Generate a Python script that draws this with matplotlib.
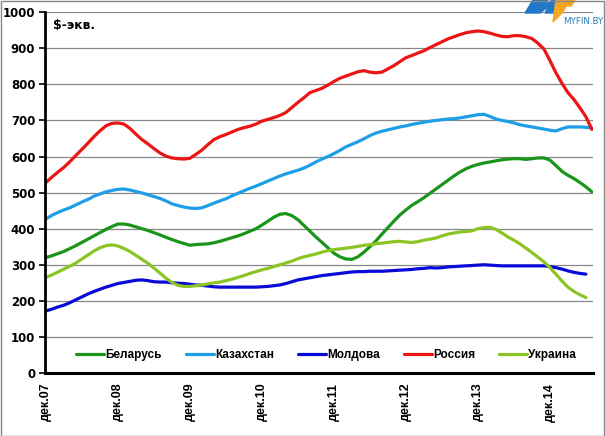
import numpy as np
import matplotlib
matplotlib.use('Agg')
import matplotlib.pyplot as plt
from matplotlib.patches import Rectangle, Polygon

# monthly values, dec.2007 .. jul.2015
belarus = [320, 325, 331, 337, 345, 353, 362, 371, 380, 389, 398, 406, 413, 413, 410, 405,
           400, 395, 389, 383, 376, 370, 364, 359, 354, 356, 357, 358, 361, 365, 370, 375,
           380, 386, 393, 400, 410, 421, 432, 440, 442, 436, 425, 409, 393, 377, 362, 347,
           332, 322, 316, 315, 322, 335, 350, 366, 385, 403, 421, 438, 452, 465, 475, 486,
           498, 510, 522, 534, 546, 557, 566, 573, 578, 582, 585, 588, 591, 593, 594, 594,
           592, 594, 596, 596, 590, 575, 559, 548, 539, 528, 516, 502]
kazakhstan = [427, 437, 445, 452, 458, 466, 474, 481, 490, 496, 502, 506, 509, 510, 507, 503,
              499, 494, 489, 484, 477, 469, 464, 460, 457, 456, 458, 464, 471, 477, 483, 491,
              498, 505, 512, 518, 525, 532, 539, 546, 552, 557, 562, 568, 576, 585, 593, 600,
              608, 617, 627, 634, 641, 649, 658, 665, 670, 674, 678, 682, 685, 689, 692, 695,
              698, 700, 702, 704, 705, 707, 710, 713, 716, 717, 711, 704, 700, 697, 693, 688,
              685, 682, 679, 676, 673, 671, 677, 682, 682, 682, 681, 679]
moldova = [172, 177, 183, 188, 195, 203, 211, 219, 226, 232, 238, 243, 248, 251, 254, 257,
           258, 256, 253, 252, 252, 250, 249, 248, 246, 244, 243, 241, 239, 238, 238, 238,
           238, 238, 238, 238, 239, 240, 242, 244, 248, 253, 258, 261, 264, 267, 270, 272,
           274, 276, 278, 280, 281, 281, 282, 282, 282, 283, 284, 285, 286, 287, 289, 290,
           292, 291, 292, 294, 295, 296, 297, 298, 299, 300, 299, 298, 297, 297, 297, 297,
           297, 297, 297, 297, 295, 292, 288, 283, 279, 276, 274]
russia = [528, 543, 557, 570, 586, 603, 620, 637, 655, 671, 685, 692, 693, 690, 678, 662,
          647, 635, 622, 610, 601, 596, 594, 593, 595, 606, 618, 633, 647, 655, 661, 668,
          675, 680, 684, 690, 698, 703, 708, 714, 722, 736, 750, 763, 777, 783, 789, 798,
          808, 817, 823, 829, 835, 838, 834, 832, 834, 843, 852, 863, 874, 880, 887, 893,
          902, 910, 918, 926, 932, 938, 943, 946, 948, 946, 942, 937, 933, 932, 935, 935,
          932, 927, 914, 898, 866, 832, 803, 777, 758, 735, 710, 675]
ukraine = [265, 272, 280, 288, 296, 305, 316, 327, 338, 347, 353, 355, 352, 345, 337, 326,
           315, 304, 291, 277, 263, 251, 243, 240, 240, 242, 244, 247, 250, 252, 256, 260,
           265, 270, 276, 281, 286, 290, 295, 300, 305, 310, 317, 322, 326, 330, 335, 339,
           342, 344, 346, 348, 351, 354, 356, 358, 360, 362, 364, 365, 363, 362, 364, 368,
           371, 374, 380, 385, 388, 391, 392, 394, 400, 403, 404, 398, 388, 377, 368, 358,
           346, 334, 321, 308, 292, 274, 255, 238, 226, 217, 209]

names = ['Беларусь', 'Казахстан', 'Молдова', 'Россия', 'Украина']
colors = ['#1a951a', '#1f9ee8', '#0a0ad8', '#ec1515', '#8cc425']
tick_labels = ['дек.07', 'дек.08', 'дек.09', 'дек.10', 'дек.11', 'дек.12', 'дек.13', 'дек.14']

fig = plt.figure(figsize=(6.05, 4.36), dpi=100)
ax = fig.add_axes([0.0744, 0.1445, 0.906, 0.8275])

series = [belarus, kazakhstan, moldova, russia, ukraine]
for vals, nm, c in zip(series, names, colors):
    ax.plot(np.arange(len(vals)), vals, color=c, lw=2.3, label=nm, solid_capstyle='round')

ax.set_ylim(0, 1000)
ax.set_xlim(-0.15, 91.2)
ax.set_yticks(np.arange(0, 1001, 100))
ax.set_xticks(np.arange(0, 85, 12))
ax.set_xticklabels(tick_labels, rotation=90, fontsize=9, fontweight='bold',
                   family='Liberation Sans')
ax.tick_params(axis='x', length=0, pad=7)
ax.tick_params(axis='y', length=4, width=1.2, pad=3)
for lb in ax.get_yticklabels():
    lb.set_fontweight('bold')
    lb.set_fontsize(8.5)
    lb.set_family('DejaVu Sans')

ax.grid(axis='y', color='#888888', lw=0.9)
ax.set_axisbelow(True)
for s in ['top', 'right']:
    ax.spines[s].set_visible(False)
ax.spines['left'].set_linewidth(2)
ax.spines['bottom'].set_linewidth(2.2)

ax.text(0.015, 0.962, '$-экв.', transform=ax.transAxes, fontsize=9, fontweight='bold',
        va='center', ha='left', family='DejaVu Sans')

ax.legend(loc='center', bbox_to_anchor=(0.513, 0.05), ncol=5, frameon=False,
          handlelength=2.4, handletextpad=0.1, columnspacing=2.0,
          prop={'family': 'Liberation Sans', 'weight': 'bold', 'size': 8.5})

# logo (rough)
W, H = 605.0, 436.0
def fp(pts):
    return [[x / W, 1 - y / H] for x, y in pts]

logo_blue = Polygon(fp([(525, 13), (533, 0), (548, 0), (545, 6), (552, 0), (567, 0),
                        (559, 13), (545, 13), (549, 6), (540, 13)]),
                    closed=True, transform=fig.transFigure, color='#1f78c8')
logo_yel = Polygon(fp([(556, 0), (575, 0), (571, 6), (566, 6), (563, 12), (553, 22)]),
                   closed=True, transform=fig.transFigure, color='#f5a623')
fig.patches.extend([logo_blue, logo_yel])
fig.text(603 / W, 1 - 21 / H, 'MYFIN.BY', fontsize=6.3, color='#2a7ab8',
         ha='right', va='center', family='DejaVu Sans')

fig.patches.append(Rectangle((0.001, 0.001), 0.997, 0.997, transform=fig.transFigure,
                             fill=False, edgecolor='#888888', lw=1))

fig.savefig('out.png', dpi=100)
